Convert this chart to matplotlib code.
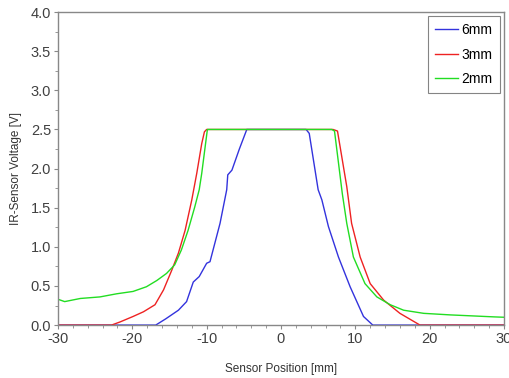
import matplotlib
matplotlib.use("Agg")
import matplotlib.pyplot as plt
from matplotlib.ticker import MultipleLocator, FormatStrFormatter

plt.rcParams['font.family'] = ['Liberation Sans', 'DejaVu Sans']
plt.rcParams['axes.unicode_minus'] = False

# 6mm (blue)
x_6mm = [-30, -16.85, -15.5, -13.8, -12.7, -11.8, -11.0, -10.0, -9.55, -8.2, -7.3, -7.16, -6.6, -5.6, -4.6,
         3.38, 3.8, 5.0, 5.5, 6.38, 7.73, 9.3, 11.1, 12.35, 30]
y_6mm = [0.0, 0.0, 0.08, 0.19, 0.30, 0.55, 0.62, 0.79, 0.81, 1.30, 1.73, 1.92, 1.98, 2.25, 2.5,
         2.5, 2.45, 1.73, 1.6, 1.26, 0.87, 0.49, 0.11, 0.0, 0.0]

# 3mm (red)
x_3mm = [-30, -22.8, -21.65, -19.9, -18.5, -16.95, -15.8, -14.7, -13.8, -12.9, -12.0, -11.33, -10.66, -10.3, -10.0,
         7.0, 7.6, 8.85, 9.5, 10.65, 12.0, 13.8, 16.0, 17.8, 18.7, 30]
y_3mm = [0.0, 0.0, 0.04, 0.11, 0.17, 0.26, 0.45, 0.70, 0.92, 1.21, 1.60, 1.94, 2.32, 2.47, 2.5,
         2.5, 2.48, 1.77, 1.30, 0.87, 0.53, 0.32, 0.15, 0.05, 0.0, 0.0]

# 2mm (green)
x_2mm = [-30, -29.1, -27.0, -24.35, -22.1, -19.9, -18.1, -16.7, -15.4, -14.3, -13.4, -12.5, -11.6, -11.0, -10.66, -10.2, -9.9,
         6.83, 7.2, 8.25, 8.85, 9.74, 11.3, 12.9, 14.7, 16.5, 19.2, 22.8, 26.3, 28.6, 30]
y_2mm = [0.33, 0.30, 0.34, 0.36, 0.40, 0.43, 0.49, 0.57, 0.66, 0.77, 0.96, 1.21, 1.51, 1.73, 1.94, 2.28, 2.5,
         2.5, 2.48, 1.68, 1.30, 0.87, 0.53, 0.36, 0.26, 0.19, 0.15, 0.13, 0.115, 0.105, 0.10]

labels = ['6mm', '3mm', '2mm']
colors = ['#3333dd', '#ee2222', '#22dd22']

fig = plt.figure(figsize=(5.10, 3.78), dpi=100)
ax = fig.add_axes([0.1137, 0.140, 0.8745, 0.828])

for xs, ys, lab, c in zip([x_6mm, x_3mm, x_2mm], [y_6mm, y_3mm, y_2mm], labels, colors):
    ax.plot(xs, ys, color=c, lw=1.0, label=lab)

ax.set_xlim(-30, 30)
ax.set_ylim(0, 4.0)
ax.xaxis.set_major_locator(MultipleLocator(10))
ax.xaxis.set_minor_locator(MultipleLocator(2))
ax.yaxis.set_major_locator(MultipleLocator(0.5))
ax.yaxis.set_minor_locator(MultipleLocator(0.25))
ax.yaxis.set_major_formatter(FormatStrFormatter('%.1f'))

for s in ax.spines.values():
    s.set_color('#888888')
    s.set_linewidth(1.0)
ax.tick_params(which='both', direction='out', colors='#888888', labelcolor='#404040', labelsize=10.5)
ax.tick_params(which='major', length=3, pad=2)
ax.tick_params(which='minor', length=2.5)

ax.set_xlabel('Sensor Position [mm]', fontsize=8.5, color='#333333', labelpad=12)
ax.set_ylabel('IR-Sensor Voltage [V]', fontsize=8.5, color='#333333', labelpad=6)

leg = ax.legend(loc='upper right', fontsize=10, frameon=True, fancybox=False,
                handlelength=1.6, handletextpad=0.3, borderaxespad=0.3, labelspacing=0.75,
                borderpad=0.5)
leg.get_frame().set_edgecolor('#666666')
leg.get_frame().set_linewidth(0.8)

fig.savefig('out.png', dpi=100)
